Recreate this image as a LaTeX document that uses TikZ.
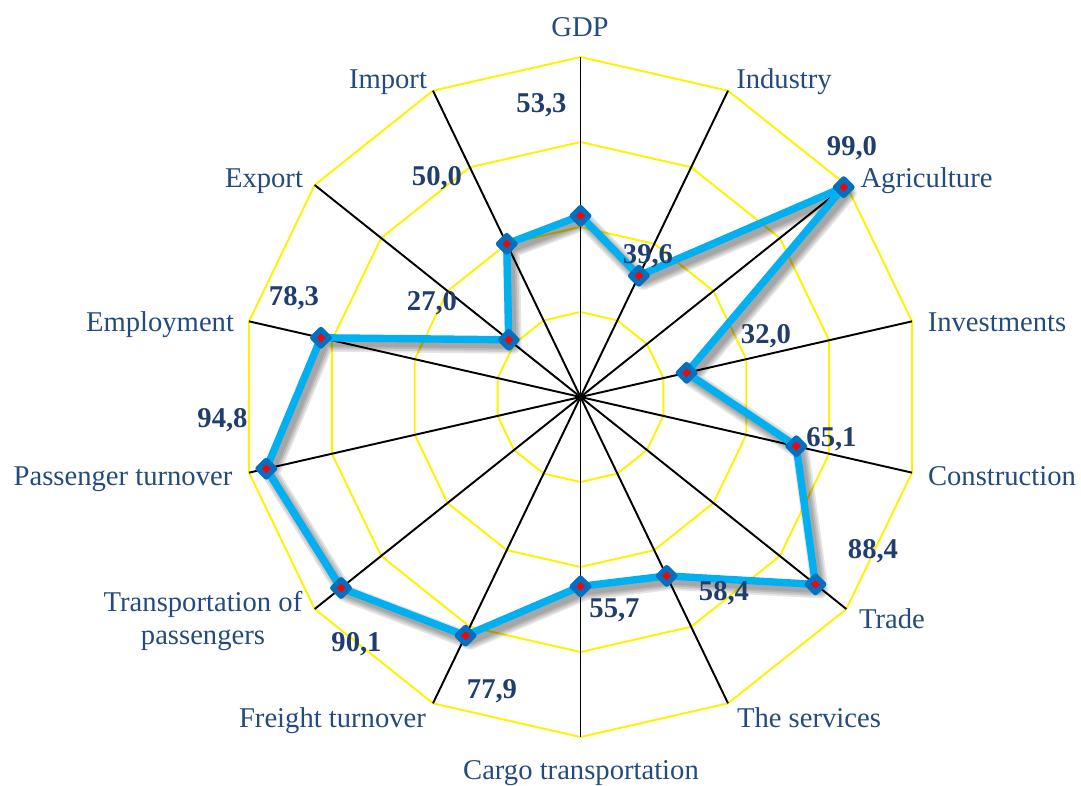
\documentclass[tikz,border=0pt]{standalone}
\usepackage{fontspec}
\setmainfont{Liberation Serif}
\usepackage{tikz}
\usetikzlibrary{calc}
\definecolor{labelblue}{RGB}{36,75,125}
\definecolor{valblue}{RGB}{31,62,110}
\definecolor{lineblue}{RGB}{0,176,240}
\definecolor{markblue}{RGB}{0,112,192}
\tikzset{
    spoke/.style={
           black,
           line width=1.1pt},
    ring/.style={
           yellow,
           line width=1.1pt},
    serie/.style={
           lineblue,
           line width=4.2pt,
           line join=round},
    schatten/.style={
           black,
           opacity=0.1,
           line join=round},
    punkt/.style={
           rectangle, rotate=45,
           minimum size=0.234cm,
           inner sep=0pt,
           fill=red,
           draw=markblue, line width=3pt,
           line join=round},
    achse/.style={
           text=labelblue,
           inner sep=0pt,
           anchor=base},
    wert/.style={
           text=valblue,
           font=\bfseries,
           inner sep=0pt,
           anchor=base}
}

\begin{document}
\begin{tikzpicture}[x=0.02cm, y=0.02cm]
          \def \h {14}
          \def \radius {340}
          \fontsize{16.3pt}{19.3pt}\selectfont
          \useasboundingbox (-580.5,-388) rectangle (500.5,397);
          \coordinate (o) at (0,0);
          % grid
          \foreach \r in {85,170,255,340}
             \draw[ring] (90:\r) \foreach \k in {1,...,13} { -- ({90 - 360/\h*\k}:\r) } -- cycle;
          \coordinate (gdp) at ({90 - 360/\h * 0}:\radius);
          \coordinate (ind) at ({90 - 360/\h * 1}:\radius);
          \coordinate (agr) at ({90 - 360/\h * 2}:\radius);
          \coordinate (inv) at ({90 - 360/\h * 3}:\radius);
          \coordinate (con) at ({90 - 360/\h * 4}:\radius);
          \coordinate (tra) at ({90 - 360/\h * 5}:\radius);
          \coordinate (ser) at ({90 - 360/\h * 6}:\radius);
          \coordinate (car) at ({90 - 360/\h * 7}:\radius);
          \coordinate (fre) at ({90 - 360/\h * 8}:\radius);
          \coordinate (tpa) at ({90 - 360/\h * 9}:\radius);
          \coordinate (pas) at ({90 - 360/\h * 10}:\radius);
          \coordinate (emp) at ({90 - 360/\h * 11}:\radius);
          \coordinate (exp) at ({90 - 360/\h * 12}:\radius);
          \coordinate (imp) at ({90 - 360/\h * 13}:\radius);
          \foreach \n in {gdp,ind,agr,inv,con,tra,ser,car,fre,tpa,pas,emp,exp,imp}
             \draw[spoke] (o) -- (\n);
          % data
          \coordinate (vgdp) at ({90 - 360/\h * 0}:{53.3/100*\radius});
          \coordinate (vind) at ({90 - 360/\h * 1}:{39.6/100*\radius});
          \coordinate (vagr) at ({90 - 360/\h * 2}:{99.0/100*\radius});
          \coordinate (vinv) at ({90 - 360/\h * 3}:{32.0/100*\radius});
          \coordinate (vcon) at ({90 - 360/\h * 4}:{65.1/100*\radius});
          \coordinate (vtra) at ({90 - 360/\h * 5}:{88.4/100*\radius});
          \coordinate (vser) at ({90 - 360/\h * 6}:{58.4/100*\radius});
          \coordinate (vcar) at ({90 - 360/\h * 7}:{55.7/100*\radius});
          \coordinate (vfre) at ({90 - 360/\h * 8}:{77.9/100*\radius});
          \coordinate (vtpa) at ({90 - 360/\h * 9}:{90.1/100*\radius});
          \coordinate (vpas) at ({90 - 360/\h * 10}:{94.8/100*\radius});
          \coordinate (vemp) at ({90 - 360/\h * 11}:{78.3/100*\radius});
          \coordinate (vexp) at ({90 - 360/\h * 12}:{27.0/100*\radius});
          \coordinate (vimp) at ({90 - 360/\h * 13}:{50.0/100*\radius});
          \foreach \w in {0.34cm,0.27cm,0.2cm,0.13cm}
             \draw[schatten, line width=\w, transform canvas={shift={(0.09cm,-0.11cm)}}]
                (vgdp) -- (vind) -- (vagr) -- (vinv) -- (vcon) -- (vtra) -- (vser) -- (vcar)
                -- (vfre) -- (vtpa) -- (vpas) -- (vemp) -- (vexp) -- (vimp) -- cycle;
          \draw[serie] (vgdp) -- (vind) -- (vagr) -- (vinv) -- (vcon) -- (vtra) -- (vser) -- (vcar)
                -- (vfre) -- (vtpa) -- (vpas) -- (vemp) -- (vexp) -- (vimp) -- cycle;
          \node[punkt] (pgdp) at (vgdp) {};
          \node[punkt] (pind) at (vind) {};
          \node[punkt] (pagr) at (vagr) {};
          \node[punkt] (pinv) at (vinv) {};
          \node[punkt] (pcon) at (vcon) {};
          \node[punkt] (ptra) at (vtra) {};
          \node[punkt] (pser) at (vser) {};
          \node[punkt] (pcar) at (vcar) {};
          \node[punkt] (pfre) at (vfre) {};
          \node[punkt] (ptpa) at (vtpa) {};
          \node[punkt] (ppas) at (vpas) {};
          \node[punkt] (pemp) at (vemp) {};
          \node[punkt] (pexp) at (vexp) {};
          \node[punkt] (pimp) at (vimp) {};
          % values
          \node[wert] (wgdp) at (-39,285) {53,3};
          \node[wert] (wind) at (67.5,134) {39,6};
          \node[wert] (wagr) at (271.5,242) {99,0};
          \node[wert] (winv) at (185.5,54) {32,0};
          \node[wert] (wcon) at (251,-49) {65,1};
          \node[wert] (wtra) at (292.5,-161) {88,4};
          \node[wert] (wser) at (143.5,-203) {58,4};
          \node[wert] (wcar) at (34,-220) {55,7};
          \node[wert] (wfre) at (-88.5,-301) {77,9};
          \node[wert] (wtpa) at (-224,-254) {90,1};
          \node[wert] (wpas) at (-358,-30) {94,8};
          \node[wert] (wemp) at (-286.5,92) {78,3};
          \node[wert] (wexp) at (-148.5,87) {27,0};
          \node[wert] (wimp) at (-143.5,212) {50,0};
          % axis labels
          \node[achse] (lgdp) at (-0.5,360) {GDP};
          \node[achse] (lind) at (203.5,309) {Industry};
          \node[achse] (lagr) at (346,210) {Agriculture};
          \node[achse] (linv) at (416.5,66) {Investments};
          \node[achse] (lcon) at (421.5,-88) {Construction};
          \node[achse] (ltra) at (311.5,-231) {Trade};
          \node[achse] (lser) at (228.5,-330) {The services};
          \node[achse] (lcar) at (0.5,-382) {Cargo transportation};
          \node[achse] (lfre) at (-248,-330) {Freight turnover};
          \node[achse, anchor=center, align=center] (ltpa) at (-377.5,-224) {Transportation of\\passengers};
          \node[achse] (lpas) at (-457.5,-88) {Passenger turnover};
          \node[achse] (lemp) at (-420.5,66) {Employment};
          \node[achse] (lexp) at (-316.5,210) {Export};
          \node[achse] (limp) at (-192.5,309) {Import};
\end{tikzpicture}
\end{document}
